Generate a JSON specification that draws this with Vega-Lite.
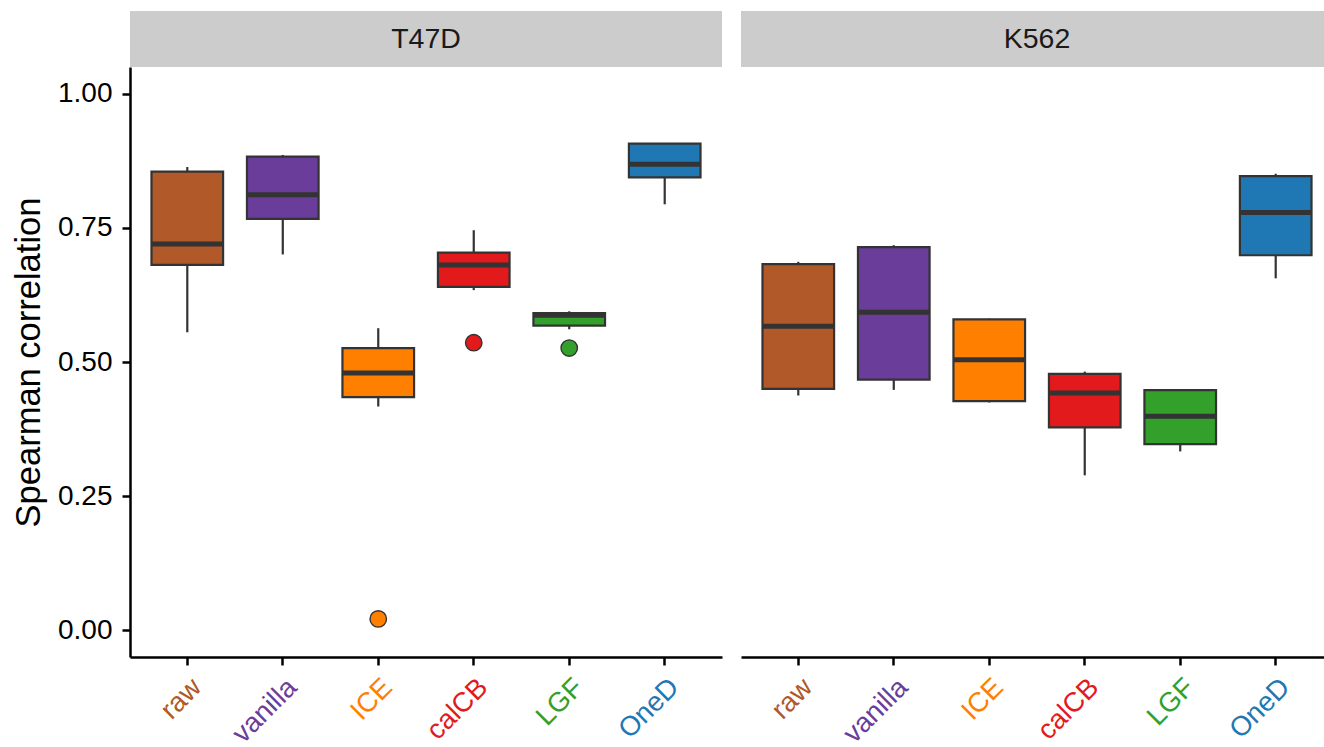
{
  "$schema": "https://vega.github.io/schema/vega-lite/v6.json",
  "padding": {"left": 11, "top": 11, "right": 0, "bottom": 0},
  "background": "white",
  "config": {
    "view": {"stroke": null},
    "font": "Liberation Sans"
  },
  "data": {
    "values": [
      {"cell": "T47D", "method": "raw", "lower": 0.5554, "q1": 0.681, "median": 0.720, "q3": 0.855, "upper": 0.8635, "outlier": null},
      {"cell": "T47D", "method": "vanilla", "lower": 0.7005, "q1": 0.767, "median": 0.812, "q3": 0.883, "upper": 0.886, "outlier": null},
      {"cell": "T47D", "method": "ICE", "lower": 0.417, "q1": 0.4345, "median": 0.4797, "q3": 0.5257, "upper": 0.563, "outlier": 0.021},
      {"cell": "T47D", "method": "calCB", "lower": 0.634, "q1": 0.640, "median": 0.681, "q3": 0.704, "upper": 0.7457, "outlier": 0.536},
      {"cell": "T47D", "method": "LGF", "lower": 0.561, "q1": 0.568, "median": 0.587, "q3": 0.591, "upper": 0.5945, "outlier": 0.526},
      {"cell": "T47D", "method": "OneD", "lower": 0.794, "q1": 0.8443, "median": 0.8685, "q3": 0.907, "upper": 0.907, "outlier": null},
      {"cell": "K562", "method": "raw", "lower": 0.4375, "q1": 0.450, "median": 0.5666, "q3": 0.6825, "upper": 0.6868, "outlier": null},
      {"cell": "K562", "method": "vanilla", "lower": 0.448, "q1": 0.467, "median": 0.5926, "q3": 0.714, "upper": 0.7178, "outlier": null},
      {"cell": "K562", "method": "ICE", "lower": 0.4245, "q1": 0.427, "median": 0.504, "q3": 0.5796, "upper": 0.5808, "outlier": null},
      {"cell": "K562", "method": "calCB", "lower": 0.2887, "q1": 0.378, "median": 0.442, "q3": 0.478, "upper": 0.482, "outlier": null},
      {"cell": "K562", "method": "LGF", "lower": 0.3333, "q1": 0.347, "median": 0.399, "q3": 0.4475, "upper": 0.4475, "outlier": null},
      {"cell": "K562", "method": "OneD", "lower": 0.656, "q1": 0.699, "median": 0.7787, "q3": 0.8467, "upper": 0.851, "outlier": null}
    ]
  },
  "facet": {
    "column": {
      "field": "cell",
      "type": "nominal",
      "sort": ["T47D", "K562"],
      "title": null,
      "header": {"labels": false, "title": null}
    }
  },
  "spacing": 19,
  "resolve": {"axis": {"x": "independent"}},
  "spec": {
    "width": 592,
    "height": 590,
    "encoding": {
      "x": {
        "field": "method",
        "type": "nominal",
        "sort": ["raw", "vanilla", "ICE", "calCB", "LGF", "OneD"],
        "scale": {"type": "band", "paddingInner": 0.25, "paddingOuter": 0.225},
        "axis": {
          "title": null,
          "labelAngle": -45,
          "labelAlign": "right",
          "labelBaseline": "top",
          "labelFontSize": 27.5,
          "labelFont": "Liberation Sans",
          "labelPadding": 8,
          "labelColor": {
            "condition": [
              {"test": "datum.value === 'raw'", "value": "#B15928"},
              {"test": "datum.value === 'vanilla'", "value": "#6A3D9A"},
              {"test": "datum.value === 'ICE'", "value": "#FF7F00"},
              {"test": "datum.value === 'calCB'", "value": "#E31A1C"},
              {"test": "datum.value === 'LGF'", "value": "#33A02C"}
            ],
            "value": "#1F78B4"
          },
          "domainColor": "black",
          "domainWidth": 2.5,
          "tickColor": "black",
          "tickWidth": 2.5,
          "tickSize": 8
        }
      }
    },
    "layer": [
      {
        "mark": {"type": "rule", "color": "#333333", "strokeWidth": 2.2},
        "encoding": {
          "y": {
            "field": "lower",
            "type": "quantitative",
            "scale": {"domain": [-0.05, 1.05], "nice": false, "zero": false},
            "axis": {
              "title": "Spearman correlation",
              "titleFontSize": 34.5,
              "titleFontWeight": "normal",
              "titleColor": "black",
              "titleFont": "Liberation Sans",
              "titlePadding": 11.5,
              "values": [0, 0.25, 0.5, 0.75, 1],
              "format": ".2f",
              "grid": false,
              "labelFontSize": 28,
              "labelColor": "black",
              "labelFont": "Liberation Sans",
              "labelPadding": 10,
              "domainColor": "black",
              "domainWidth": 2.5,
              "tickColor": "black",
              "tickWidth": 2.5,
              "tickSize": 8
            }
          },
          "y2": {"field": "upper"}
        }
      },
      {
        "mark": {"type": "rect", "stroke": "#333333", "strokeWidth": 2.2},
        "encoding": {
          "y": {"field": "q1", "type": "quantitative"},
          "y2": {"field": "q3"},
          "fill": {
            "field": "method",
            "type": "nominal",
            "scale": {"domain": ["raw", "vanilla", "ICE", "calCB", "LGF", "OneD"], "range": ["#B15928", "#6A3D9A", "#FF7F00", "#E31A1C", "#33A02C", "#1F78B4"]},
            "legend": null
          }
        }
      },
      {
        "mark": {"type": "tick", "color": "#333333", "thickness": 5, "opacity": 1},
        "encoding": {
          "y": {"field": "median", "type": "quantitative"}
        }
      },
      {
        "transform": [{"filter": "isValid(datum.outlier)"}],
        "mark": {"type": "point", "filled": true, "size": 270, "stroke": "#333333", "strokeWidth": 1.4, "opacity": 1},
        "encoding": {
          "y": {"field": "outlier", "type": "quantitative"},
          "fill": {"field": "method", "type": "nominal", "legend": null}
        }
      },
      {
        "transform": [{"filter": "datum.method === 'raw'"}],
        "mark": {"type": "rect", "fill": "#CCCCCC"},
        "encoding": {
          "x": {"value": 0},
          "x2": {"value": "width"},
          "y": {"datum": 1.05},
          "y2": {"datum": 1.1544}
        }
      },
      {
        "transform": [{"filter": "datum.method === 'raw'"}],
        "mark": {"type": "text", "fontSize": 28.5, "font": "Liberation Sans", "color": "#1A1A1A", "baseline": "middle", "align": "center"},
        "encoding": {
          "x": {"value": 296},
          "y": {"datum": 1.1022},
          "text": {"field": "cell"}
        }
      }
    ]
  }
}
